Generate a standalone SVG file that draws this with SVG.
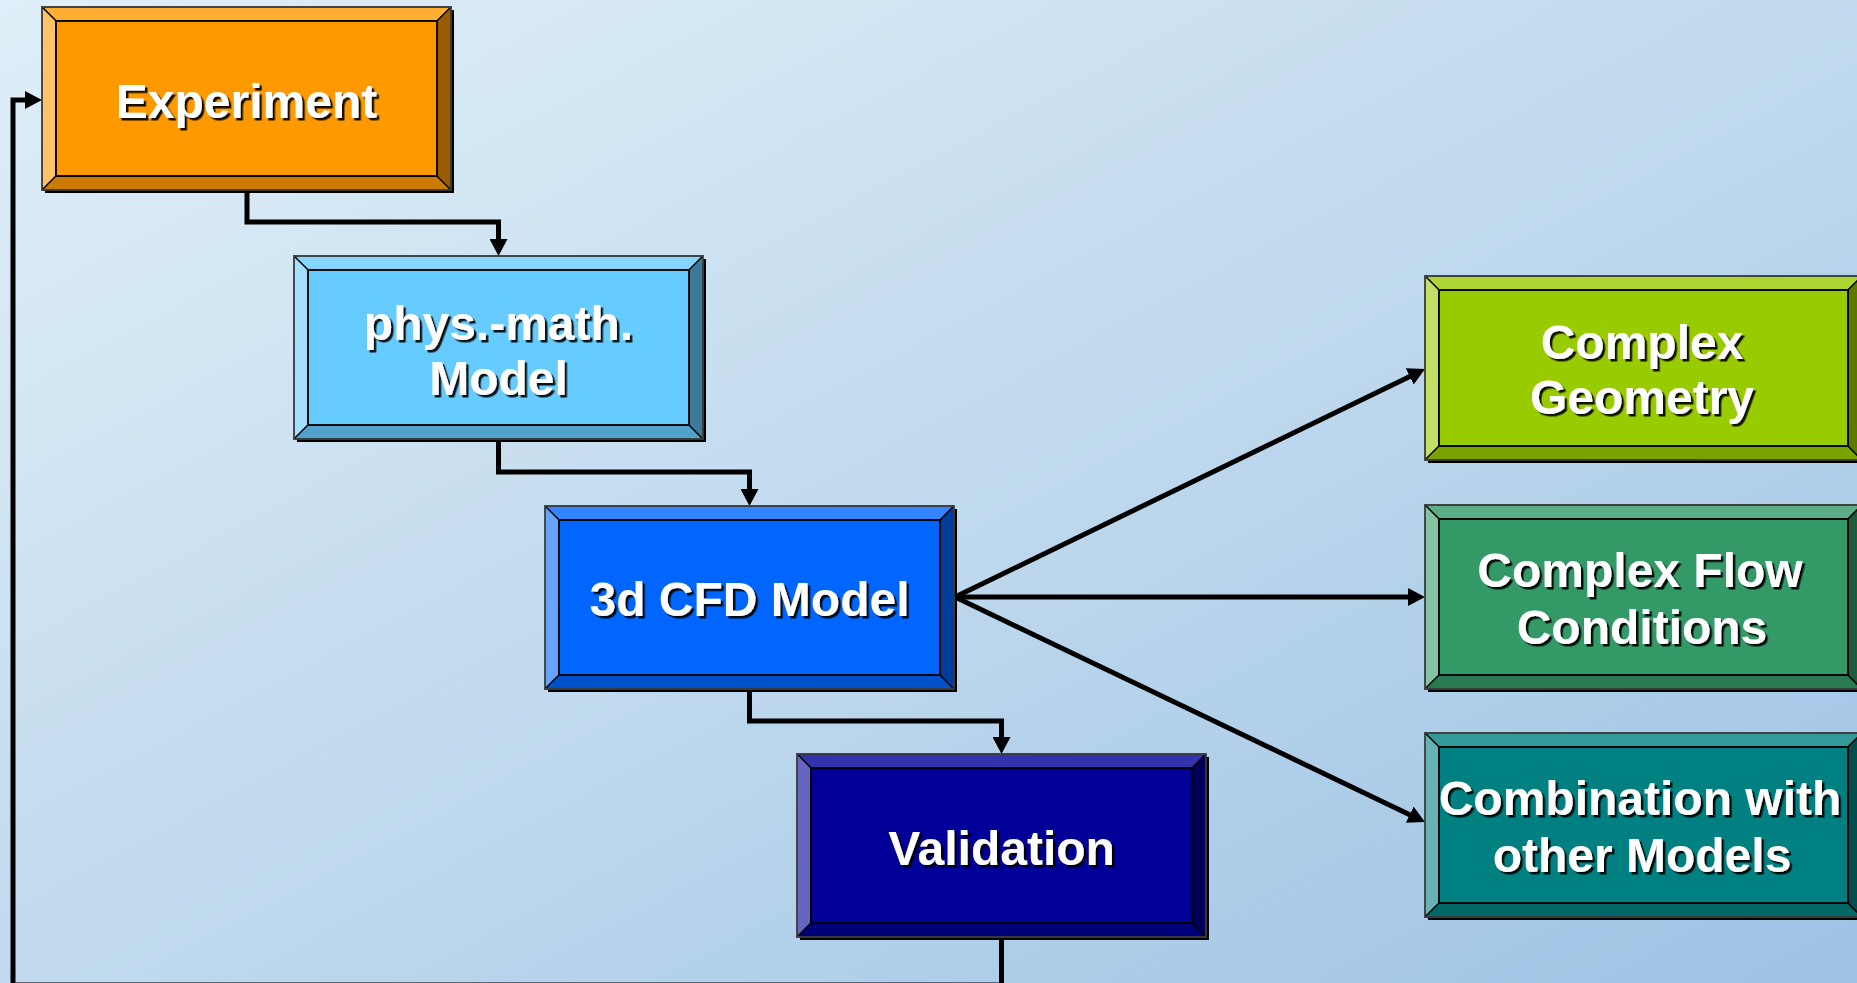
<svg xmlns="http://www.w3.org/2000/svg" width="1857" height="983" viewBox="0 0 1857 983">
<defs>
<linearGradient id="bg" x1="0" y1="0" x2="1" y2="1">
<stop offset="0" stop-color="#E0EFF8"/>
<stop offset="0.5" stop-color="#C1DAEE"/>
<stop offset="1" stop-color="#9DC2E4"/>
</linearGradient>
<marker id="ah" markerUnits="userSpaceOnUse" markerWidth="17" markerHeight="18" refX="7" refY="9" orient="auto" viewBox="0 0 17 18">
<path d="M0,0 L17,9 L0,18 z" fill="#000"/>
</marker>
<filter id="ts" x="-10%" y="-20%" width="120%" height="140%">
<feDropShadow dx="2.5" dy="2.5" stdDeviation="0" flood-color="#000" flood-opacity="0.9"/>
</filter>
</defs>
<style>
.conn path{fill:none;stroke:#000;stroke-width:5;stroke-linejoin:miter;marker-end:url(#ah)}
.sh{fill:#000}
.bv{stroke:#000;stroke-width:1.3;stroke-linejoin:round}
.in{stroke:#000;stroke-width:1.8}
.ol{fill:none;stroke:#4a4a4a;stroke-width:1.5}
.lbl{font-family:"Liberation Sans",Arial,Helvetica,sans-serif;font-weight:bold;font-size:48px;fill:#fff;text-anchor:middle;filter:url(#ts)}
</style>
<rect x="0" y="0" width="1857" height="983" fill="url(#bg)"/>

<g id="connectors" class="conn">
<path d="M247,190 V222 H498.5 V246"/>
<path d="M498.5,439 V472 H749.5 V496"/>
<path d="M749.5,689 V721 H1001.5 V744"/>
<path d="M1001.5,937 V985 H13 V100 H32"/>
<path d="M955,597 L1416,373.4"/>
<path d="M955,597 H1415"/>
<path d="M955,597 L1416,817.7"/>
</g>

<g id="experiment" transform="translate(42,7)">
<rect class="sh" x="3" y="3" width="409" height="183"/>
<polygon class="bv" fill="#FFAD33" points="0,0 409,0 395,14 14,14"/>
<polygon class="bv" fill="#FFC266" points="0,0 14,14 14,169 0,183"/>
<polygon class="bv" fill="#CC7A00" points="0,183 14,169 395,169 409,183"/>
<polygon class="bv" fill="#995C00" points="409,0 409,183 395,169 395,14"/>
<rect class="in" fill="#FF9900" x="14" y="14" width="381" height="155"/>
<rect class="ol" x="0" y="0" width="409" height="183"/>
<text class="lbl" x="204.5" y="111">Experiment</text>
</g>

<g id="physmath" transform="translate(294,256)">
<rect class="sh" x="3" y="3" width="409" height="183"/>
<polygon class="bv" fill="#85D6FF" points="0,0 409,0 395,14 14,14"/>
<polygon class="bv" fill="#A3E0FF" points="0,0 14,14 14,169 0,183"/>
<polygon class="bv" fill="#52A3CC" points="0,183 14,169 395,169 409,183"/>
<polygon class="bv" fill="#3D7A99" points="409,0 409,183 395,169 395,14"/>
<rect class="in" fill="#66CCFF" x="14" y="14" width="381" height="155"/>
<rect class="ol" x="0" y="0" width="409" height="183"/>
<text class="lbl" x="204.5" y="84">phys.-math.</text>
<text class="lbl" x="204.5" y="139">Model</text>
</g>

<g id="cfd" transform="translate(545,506)">
<rect class="sh" x="3" y="3" width="409" height="183"/>
<polygon class="bv" fill="#3385FF" points="0,0 409,0 395,14 14,14"/>
<polygon class="bv" fill="#66A3FF" points="0,0 14,14 14,169 0,183"/>
<polygon class="bv" fill="#0052CC" points="0,183 14,169 395,169 409,183"/>
<polygon class="bv" fill="#003D99" points="409,0 409,183 395,169 395,14"/>
<rect class="in" fill="#0066FF" x="14" y="14" width="381" height="155"/>
<rect class="ol" x="0" y="0" width="409" height="183"/>
<text class="lbl" x="204.5" y="110">3d CFD Model</text>
</g>

<g id="validation" transform="translate(797,754)">
<rect class="sh" x="3" y="3" width="409" height="183"/>
<polygon class="bv" fill="#3333AD" points="0,0 409,0 395,14 14,14"/>
<polygon class="bv" fill="#6666C2" points="0,0 14,14 14,169 0,183"/>
<polygon class="bv" fill="#00007A" points="0,183 14,169 395,169 409,183"/>
<polygon class="bv" fill="#00005C" points="409,0 409,183 395,169 395,14"/>
<rect class="in" fill="#000099" x="14" y="14" width="381" height="155"/>
<rect class="ol" x="0" y="0" width="409" height="183"/>
<text class="lbl" x="204.5" y="111">Validation</text>
</g>

<g id="complexgeometry" transform="translate(1425,276)">
<rect class="sh" x="3" y="3" width="437" height="184"/>
<polygon class="bv" fill="#ADD633" points="0,0 437,0 423,14 14,14"/>
<polygon class="bv" fill="#C2E066" points="0,0 14,14 14,170 0,184"/>
<polygon class="bv" fill="#7AA300" points="0,184 14,170 423,170 437,184"/>
<polygon class="bv" fill="#5C7A00" points="437,0 437,184 423,170 423,14"/>
<rect class="in" fill="#99CC00" x="14" y="14" width="409" height="156"/>
<rect class="ol" x="0" y="0" width="437" height="184"/>
<text class="lbl" x="217" y="83">Complex</text>
<text class="lbl" x="217" y="138">Geometry</text>
</g>

<g id="complexflow" transform="translate(1425,505)">
<rect class="sh" x="3" y="3" width="437" height="184"/>
<polygon class="bv" fill="#5CAD85" points="0,0 437,0 423,14 14,14"/>
<polygon class="bv" fill="#85C2A3" points="0,0 14,14 14,170 0,184"/>
<polygon class="bv" fill="#297A52" points="0,184 14,170 423,170 437,184"/>
<polygon class="bv" fill="#1F5C3D" points="437,0 437,184 423,170 423,14"/>
<rect class="in" fill="#339966" x="14" y="14" width="409" height="156"/>
<rect class="ol" x="0" y="0" width="437" height="184"/>
<text class="lbl" x="215" y="82">Complex Flow</text>
<text class="lbl" x="217" y="139">Conditions</text>
</g>

<g id="combination" transform="translate(1425,733)">
<rect class="sh" x="3" y="3" width="437" height="184"/>
<polygon class="bv" fill="#339999" points="0,0 437,0 423,14 14,14"/>
<polygon class="bv" fill="#66B3B3" points="0,0 14,14 14,170 0,184"/>
<polygon class="bv" fill="#006666" points="0,184 14,170 423,170 437,184"/>
<polygon class="bv" fill="#004D4D" points="437,0 437,184 423,170 423,14"/>
<rect class="in" fill="#008080" x="14" y="14" width="409" height="156"/>
<rect class="ol" x="0" y="0" width="437" height="184"/>
<text class="lbl" x="215" y="82">Combination with</text>
<text class="lbl" x="217" y="139">other Models</text>
</g>
</svg>
